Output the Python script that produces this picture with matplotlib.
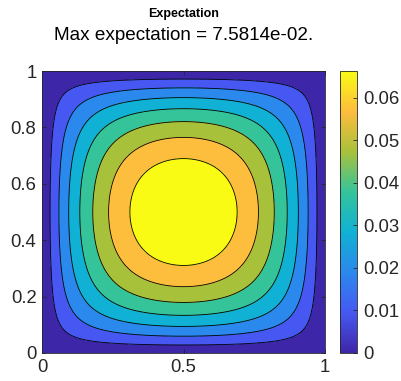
import numpy as np
import matplotlib
matplotlib.use("Agg")
import matplotlib.pyplot as plt
from matplotlib.colors import LinearSegmentedColormap, Normalize
from matplotlib.cm import ScalarMappable

plt.rcParams['font.family'] = ['Liberation Sans', 'DejaVu Sans']

# data
max_expectation = 7.5814e-02
n_regions = 8
x_ticks = [0, 0.5, 1]
x_ticklabels = ['0', '0.5', '1']
y_ticks = [0, 0.2, 0.4, 0.6, 0.8, 1]
y_ticklabels = ['0', '0.2', '0.4', '0.6', '0.8', '1']
cbar_ticks = [0, 0.01, 0.02, 0.03, 0.04, 0.05, 0.06]
cbar_ticklabels = ['0', '0.01', '0.02', '0.03', '0.04', '0.05', '0.06']

# parula-like colours at the 8 region levels
parula_pts = ['#3e26a8', '#4659f2', '#2b88ec', '#10b1d4', '#34c49b',
              '#a8c13b', '#fdbc3d', '#f9fb15']
parula = LinearSegmentedColormap.from_list('parula', parula_pts)

# expected exit time field on the unit square (series solution), scaled to max
g = np.linspace(0, 1, 301)
X, Y = np.meshgrid(g, g)
U = X * (1 - X) / 2
for n in range(1, 40, 2):
    U -= 4 / (np.pi**3 * n**3) * np.sin(n * np.pi * X) * np.cosh(n * np.pi * (Y - 0.5)) / np.cosh(n * np.pi / 2)
U = U / U.max() * max_expectation

levels = np.linspace(0, max_expectation, n_regions + 1)
region_colors = [parula(k / (n_regions - 1)) for k in range(n_regions)]

fig = plt.figure(figsize=(4.02, 3.81), dpi=100)
ax = fig.add_axes([0.1045, 0.0735, 0.704, 0.740])
ax.contourf(X, Y, U, levels=levels, colors=region_colors)
ax.contour(X, Y, U, levels=levels[1:-1], colors='k', linewidths=0.6)

ax.set_xlim(0, 1)
ax.set_ylim(0, 1)
ax.set_xticks(x_ticks)
ax.set_xticklabels(x_ticklabels)
ax.set_yticks(y_ticks)
ax.set_yticklabels(y_ticklabels)
ax.tick_params(direction='in', top=True, right=True, labelsize=13.3,
               length=3, width=0.6, colors='#262626', pad=4)
for s in ax.spines.values():
    s.set_linewidth(0.6)
    s.set_color('#262626')

fig.text(0.456, 0.963, 'Expectation', ha='center', va='center',
         fontsize=9, fontweight='bold')
fig.text(0.456, 0.906, 'Max expectation = 7.5814e-02.', ha='center',
         va='center', fontsize=13.6)

cax = fig.add_axes([0.846, 0.0735, 0.043, 0.740])
sm = ScalarMappable(norm=Normalize(0, levels[n_regions - 1]), cmap=parula)
cb = fig.colorbar(sm, cax=cax)
cb.set_ticks(cbar_ticks)
cb.set_ticklabels(cbar_ticklabels)
cax.tick_params(direction='in', labelsize=13.3, length=3, width=0.6,
                colors='#262626', pad=4)
cb.outline.set_linewidth(0.6)
cb.outline.set_edgecolor('#262626')

fig.savefig('out.png', dpi=100)
